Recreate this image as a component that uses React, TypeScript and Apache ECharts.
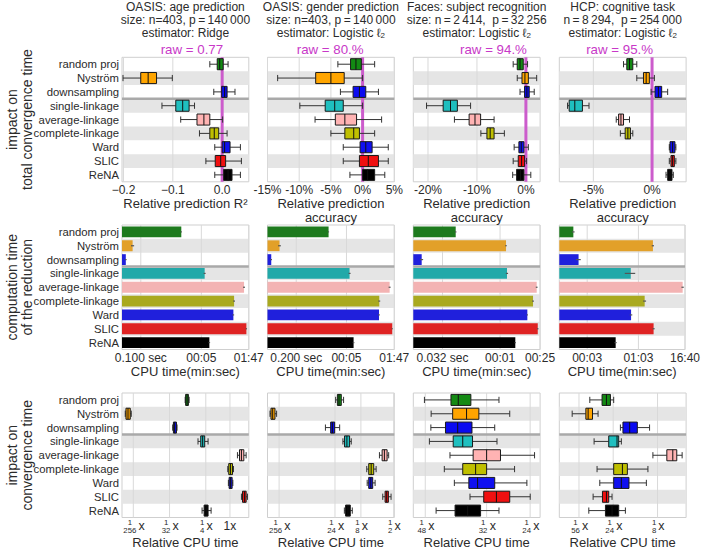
import { useEffect, useRef } from 'react';
import * as echarts from 'echarts';

const FONT = '"Liberation Sans", Arial, Helvetica, sans-serif';
const TEXT = '#2b2b2b';

const methods = [
  'random proj', 'Nyström', 'downsampling', 'single-linkage', 'average-linkage',
  'complete-linkage', 'Ward', 'SLIC', 'ReNA',
];
const boxColors = ['#138a13', '#ffa500', '#0a0af0', '#1fbfbf', '#ffb3b3', '#bfbf00', '#1010f0', '#f01010', '#000000'];
const barColors = ['#1d7a1d', '#e2a029', '#2020dc', '#22a9a9', '#f3b3b3', '#a9a91f', '#2020dc', '#df2323', '#000000'];

const studyTitles = [
  'OASIS: age prediction\nsize: n=403, p\u2009=\u2009140\u2009000\nestimator: Ridge',
  'OASIS: gender prediction\nsize: n=403, p\u2009=\u2009140\u2009000\nestimator: Logistic \u2113{sub|2}',
  'Faces: subject recognition\nsize: n\u2009=\u20092\u2009414,  p\u2009=\u200932\u2009256\nestimator: Logistic \u2113{sub|2}',
  'HCP: cognitive task\nn\u2009=\u20098\u2009294,  p\u2009=\u2009254\u2009000\nestimator: Logistic \u2113{sub|2}',
];
const rawScores = ['raw = 0.77', 'raw = 80.%', 'raw = 94.%', 'raw = 95.%'];
const rowTitles = ['impact on\ntotal convergence time', 'computation time\nof the reduction', 'impact on\nconvergence time'];

// Relative prediction score: [low whisker, q1, median, q3, high whisker]
const scoreOasisAge = [
  [-0.025, -0.010, -0.005, 0.002, 0.012],
  [-0.201, -0.165, -0.150, -0.133, -0.101],
  [-0.017, -0.001, 0.005, 0.010, 0.026],
  [-0.122, -0.094, -0.080, -0.067, -0.056],
  [-0.084, -0.051, -0.037, -0.025, 0.001],
  [-0.046, -0.025, -0.016, -0.007, 0.010],
  [-0.015, 0.000, 0.005, 0.016, 0.037],
  [-0.033, -0.014, -0.003, 0.007, 0.039],
  [-0.015, 0.003, 0.012, 0.020, 0.037],
];
const scoreOasisGender = [
  [-3.9, -1.9, -1.05, -0.2, 1.9],
  [-13.4, -7.4, -5.0, -2.9, 0],
  [-3.5, -1.5, -0.5, 0.5, 2.5],
  [-9.9, -5.9, -4.4, -3.05, 0],
  [-7.5, -4.3, -2.8, -0.95, 3.0],
  [-5.0, -2.8, -1.4, -0.5, 1.9],
  [-3.05, -0.4, 0.5, 1.5, 4.05],
  [-3.05, -0.5, 0.9, 2.5, 4.05],
  [-2.0, 0, 0.8, 1.9, 3.5],
];
const scoreFaces = [
  [-2.6, -1.77, -1.2, -0.54, 0.34],
  [-1.77, -0.8, -0.2, 0.5, 2.2],
  [-1.2, -0.27, 0.2, 0.68, 1.7],
  [-20.3, -16.9, -15.4, -14.0, -11.3],
  [-14.6, -11.6, -10.4, -9.25, -6.5],
  [-9.2, -7.96, -7.3, -6.5, -4.4],
  [-2.4, -1.43, -0.95, -0.4, 0.5],
  [-2.6, -1.56, -0.88, -0.27, 0.14],
  [-2.7, -1.9, -1.1, -0.4, 1.0],
];
const scoreHcp = [
  [-2.43, -2.15, -1.92, -1.64, -1.3],
  [-1.3, -0.73, -0.5, -0.23, 0.2],
  [-0.08, 0.25, 0.54, 0.82, 1.33],
  [-7.2, -7.06, -6.58, -5.93, -5.37],
  [-3.05, -2.85, -2.65, -2.43, -1.92],
  [-2.7, -2.29, -2.06, -1.84, -1.64],
  [1.47, 1.53, 1.75, 1.95, 2.03],
  [1.47, 1.61, 1.75, 1.9, 2.03],
  [1.19, 1.33, 1.53, 1.7, 1.81],
];
const scoreAxisMin = [-0.203, -15, -23, -7.9];
const scoreAxisMax = [0.054, 5, 2.9, 2.9];
const scoreTicks = [[-0.2, -0.1, 0], [-15, -10, -5, 0, 5], [-20, -10, 0], [-5, 0]];
const scoreTickLabels = [
  ['\u22120.2', '\u22120.1', '0.0'],
  ['-15%', '-10%', '-5%', '0%', '5%'],
  ['-20%', '-10%', '0%'],
  ['-5%', '0%'],
];
const scoreAxisNames = [
  'Relative prediction R\u00b2',
  'Relative prediction\naccuracy',
  'Relative prediction\naccuracy',
  'Relative prediction\naccuracy',
];

// Computation time of the reduction, in seconds, with its spread
const reductionTimeOasisAge = [1.37, 0.059, 0.038, 6.2, 79, 41.5, 39.6, 91.8, 8.4];
const reductionErrOasisAge = [0.05, 0.006, 0.002, 0.4, 5, 2.5, 2, 4, 0.4];
const reductionTimeOasisGender = [1.59, 0.0685, 0.0403, 6.1, 79.6, 41, 40.3, 94, 7.9];
const reductionErrOasisGender = [0.05, 0.006, 0.002, 0.4, 5, 2.5, 2, 4, 0.4];
const reductionTimeFaces = [0.0789, 2.45, 0.00773, 2.62, 19.9, 15.5, 10.5, 21.4, 4.62];
const reductionErrFaces = [0.004, 0.15, 0.0008, 0.2, 1.2, 0.9, 0.4, 1.1, 0.2];
const reductionTimeHcp = [1.32, 149, 1.8, 40, 871, 91.2, 40.7, 155, 16.3];
const reductionErrHcp = [0.1, 10, 0.25, 12, 60, 8, 3, 10, 1];
const timeAxisMin = [0.0297, 0.0317, 0.00436, 0.573];
const timeAxisMax = [107.3, 107.3, 25.1, 1003];
const timeTicks = [[0.1, 5, 107], [0.2, 5, 107], [0.032, 1.63, 25], [3, 63, 1000]];
const timeTickLabels = [
  ['0.100 sec', '00:05', '01:47'],
  ['0.200 sec', '00:05', '01:47'],
  ['0.032 sec', '00:01', '00:25'],
  ['00:03', '01:03', '16:40'],
];

// Relative CPU time of the estimator: [low whisker, q1, median, q3, high whisker]
const cpuOasisAge = [
  [0.0765, 0.0786, 0.0854, 0.0921, 0.096],
  [0.00246, 0.00256, 0.00288, 0.00328, 0.00347],
  [0.0374, 0.039, 0.0418, 0.0464, 0.048],
  [0.16, 0.187, 0.209, 0.235, 0.285],
  [1.537, 1.729, 1.932, 2.219, 2.532],
  [0.883, 0.933, 1.028, 1.157, 1.223],
  [0.914, 0.953, 1.028, 1.133, 1.181],
  [1.932, 2.056, 2.297, 2.532, 2.732],
  [0.202, 0.227, 0.255, 0.285, 0.339],
];
const cpuOasisGender = [
  [0.0429, 0.0461, 0.0494, 0.0544, 0.06],
  [0.00266, 0.00277, 0.00298, 0.00328, 0.00352],
  [0.0278, 0.0347, 0.0373, 0.0411, 0.0508],
  [0.0583, 0.0625, 0.069, 0.0774, 0.083],
  [0.274, 0.307, 0.338, 0.379, 0.405],
  [0.16, 0.174, 0.193, 0.215, 0.238],
  [0.163, 0.174, 0.19, 0.206, 0.228],
  [0.315, 0.348, 0.372, 0.4, 0.448],
  [0.062, 0.0653, 0.0721, 0.0797, 0.0867],
];
const cpuFaces = [
  [0.02072, 0.02469, 0.02591, 0.02816, 0.03391],
  [0.02166, 0.02497, 0.02737, 0.02969, 0.03641],
  [0.02162, 0.02381, 0.02581, 0.02837, 0.03297],
  [0.02141, 0.02506, 0.02669, 0.02847, 0.03347],
  [0.02453, 0.02859, 0.03125, 0.03425, 0.0429],
  [0.02363, 0.02669, 0.02906, 0.03125, 0.03759],
  [0.02525, 0.02779, 0.02944, 0.03297, 0.04078],
  [0.028, 0.03066, 0.03334, 0.03641, 0.04169],
  [0.02238, 0.02537, 0.02757, 0.03003, 0.03391],
];
const cpuHcp = [
  [0.02335, 0.03164, 0.03525, 0.03892, 0.04219],
  [0.01509, 0.02117, 0.0224, 0.02497, 0.02865],
  [0.04981, 0.05306, 0.06267, 0.07575, 0.1026],
  [0.02597, 0.03731, 0.04581, 0.04775, 0.051],
  [0.1114, 0.1573, 0.1823, 0.2012, 0.2298],
  [0.02794, 0.04219, 0.05237, 0.05919, 0.0985],
  [0.0299, 0.04219, 0.051, 0.06162, 0.09475],
  [0.02535, 0.03195, 0.03525, 0.03731, 0.0405],
  [0.02278, 0.0344, 0.0405, 0.04775, 0.05638],
];
const cpuAxisMin = [0.00204, 0.00239, 0.01925, 0.01097];
const cpuAxisMax = [2.95, 0.514, 0.0445, 0.2535];
const cpuTickDenominators = [[256, 32, 4, 1], [256, 24, 8, 2], [48, 32, 24], [56, 24, 8]];

const scoreData = [scoreOasisAge, scoreOasisGender, scoreFaces, scoreHcp];
const timeData = [reductionTimeOasisAge, reductionTimeOasisGender, reductionTimeFaces, reductionTimeHcp];
const timeErr = [reductionErrOasisAge, reductionErrOasisGender, reductionErrFaces, reductionErrHcp];
const cpuData = [cpuOasisAge, cpuOasisGender, cpuFaces, cpuHcp];

// panel geometry
const colLeft = [122, 267.5, 413.3, 559.3];
const plotW = 126.8;
const rowTop = [57.3, 225, 393];
const plotH = 124.5;

function nearestIndex(ticks: number[], v: number) {
  let best = 0;
  let bestD = Infinity;
  ticks.forEach((t, i) => {
    const d = Math.abs(t - v);
    if (d < bestD) { bestD = d; best = i; }
  });
  return best;
}

function frameSeries(xAxisIndex: number, yAxisIndex: number, ticks: number[], raw: string | null) {
  return {
    type: 'custom',
    xAxisIndex,
    yAxisIndex,
    z: 1,
    silent: true,
    clip: false,
    data: [[ticks[ticks.length - 1], 0]],
    encode: { x: 0, y: 1 },
    renderItem: (params: any, api: any) => {
      const cs = params.coordSys;
      const children: any[] = [];
      ticks.forEach((t) => {
        const x = api.coord([t, 0])[0];
        children.push({
          type: 'line',
          shape: { x1: x, y1: cs.y, x2: x, y2: cs.y + cs.height },
          style: { stroke: '#d9d9d9', lineWidth: 1 },
        });
      });
      const ys = cs.y + (cs.height * 3) / methods.length;
      children.push({
        type: 'line',
        shape: { x1: cs.x, y1: ys, x2: cs.x + cs.width, y2: ys },
        style: { stroke: '#a9a9a9', lineWidth: 2.5 },
      });
      if (raw) {
        const x0 = api.coord([0, 0])[0];
        children.push({
          type: 'line',
          shape: { x1: x0, y1: cs.y, x2: x0, y2: cs.y + cs.height },
          style: { stroke: '#cc5ccc', lineWidth: 3 },
        });
        children.push({
          type: 'text',
          x: x0 + 1,
          y: cs.y - 8,
          style: {
            text: raw, align: 'right', verticalAlign: 'middle',
            fontSize: 13.3, fill: '#c838c8', fontFamily: FONT,
          },
        });
      }
      return { type: 'group', children };
    },
  };
}

function boxSeries(xAxisIndex: number, yAxisIndex: number, rows: number[][]) {
  return {
    type: 'custom',
    xAxisIndex,
    yAxisIndex,
    z: 3,
    silent: true,
    data: rows.map((d, i) => [i, ...d]),
    encode: { x: [1, 2, 3, 4, 5], y: 0 },
    renderItem: (params: any, api: any) => {
      const cs = params.coordSys;
      const band = cs.height / methods.length;
      const ci = api.value(0);
      const xs = [1, 2, 3, 4, 5].map((d) => api.coord([api.value(d), ci])[0]);
      const yc = api.coord([api.value(3), ci])[1];
      const bh = band * 0.8;
      const ch = band * 0.45;
      const whisker = { stroke: '#333333', lineWidth: 1 };
      return {
        type: 'group',
        children: [
          { type: 'line', shape: { x1: xs[0], y1: yc, x2: xs[1], y2: yc }, style: whisker },
          { type: 'line', shape: { x1: xs[3], y1: yc, x2: xs[4], y2: yc }, style: whisker },
          { type: 'line', shape: { x1: xs[0], y1: yc - ch / 2, x2: xs[0], y2: yc + ch / 2 }, style: whisker },
          { type: 'line', shape: { x1: xs[4], y1: yc - ch / 2, x2: xs[4], y2: yc + ch / 2 }, style: whisker },
          {
            type: 'rect',
            shape: { x: xs[1], y: yc - bh / 2, width: xs[3] - xs[1], height: bh },
            style: { fill: boxColors[ci], stroke: '#1a1a1a', lineWidth: 1 },
          },
          {
            type: 'line',
            shape: { x1: xs[2], y1: yc - bh / 2, x2: xs[2], y2: yc + bh / 2 },
            style: { stroke: '#111111', lineWidth: 1 },
          },
        ],
      };
    },
  };
}

function barSeries(xAxisIndex: number, yAxisIndex: number, values: number[], errs: number[]) {
  return {
    type: 'custom',
    xAxisIndex,
    yAxisIndex,
    z: 3,
    silent: true,
    data: values.map((v, i) => [i, v, errs[i]]),
    encode: { x: 1, y: 0 },
    renderItem: (params: any, api: any) => {
      const cs = params.coordSys;
      const band = cs.height / methods.length;
      const ci = api.value(0);
      const v = api.value(1);
      const e = api.value(2);
      const p = api.coord([v, ci]);
      const lo = api.coord([v - e, ci])[0];
      const hi = api.coord([v + e, ci])[0];
      const bh = band * 0.78;
      return {
        type: 'group',
        children: [
          {
            type: 'rect',
            shape: { x: cs.x, y: p[1] - bh / 2, width: p[0] - cs.x, height: bh },
            style: { fill: barColors[ci] },
          },
          {
            type: 'line',
            shape: { x1: lo, y1: p[1], x2: hi, y2: p[1] },
            style: { stroke: '#555555', lineWidth: 1.2 },
          },
        ],
      };
    },
  };
}

// fraction tick label "1/d x": numerator, the "x" on a thin middle line, denominator
function fractionLabel(d: number) {
  if (d === 1) return '{one|1x}';
  return `{n|1}\n{x${String(d).length}|x}\n{d|${d}}`;
}

const fractionRich = (() => {
  const base = { color: TEXT, fontFamily: FONT };
  const rich: any = {
    n: { ...base, fontSize: 7.8, lineHeight: 7.9, padding: [0, 7, 0, 0] },
    d: { ...base, fontSize: 7.8, lineHeight: 7.9, padding: [0, 7, 0, 0] },
    one: { ...base, fontSize: 12, lineHeight: 16 },
  };
  [1, 2, 3].forEach((k) => {
    rich['x' + k] = { ...base, fontSize: 12.5, lineHeight: 0.4, padding: [0, 0, 0, k * 4.4 + 3.5] };
  });
  return rich;
})();

function buildOption() {
  const grid: any[] = [];
  const xAxis: any[] = [];
  const yAxis: any[] = [];
  const series: any[] = [];
  const nameStyle = { fontSize: 13, lineHeight: 14, color: TEXT, fontFamily: FONT };
  const tickStyle = { fontSize: 12, color: TEXT, fontFamily: FONT };

  for (let r = 0; r < 3; r++) {
    for (let c = 0; c < 4; c++) {
      const g = grid.length;
      grid.push({
        left: colLeft[c], top: rowTop[r], width: plotW, height: plotH,
        show: true, borderColor: '#cfcfcf', borderWidth: 1, backgroundColor: '#ffffff',
      });
      const yi = yAxis.length;
      yAxis.push({
        type: 'category',
        gridIndex: g,
        data: methods,
        inverse: true,
        axisLine: { show: false },
        axisTick: { show: false, interval: 0 },
        axisLabel: { show: c === 0, interval: 0, fontSize: 11.3, color: TEXT, fontFamily: FONT, margin: 3 },
        splitLine: { show: false },
        splitArea: { show: true, interval: 0, areaStyle: { color: ['rgba(255,255,255,0)', '#e5e5e5'] } },
      });
      const xi = xAxis.length;
      if (r === 0) {
        const ticks = scoreTicks[c];
        xAxis.push({
          type: 'value',
          gridIndex: g,
          position: 'bottom',
          min: scoreAxisMin[c],
          max: scoreAxisMax[c],
          axisLine: { show: false },
          axisTick: { show: false, customValues: ticks },
          splitLine: { show: false },
          axisLabel: {
            ...tickStyle, margin: 2, customValues: ticks,
            formatter: (v: number) => scoreTickLabels[c][nearestIndex(ticks, v)],
          },
          name: scoreAxisNames[c],
          nameLocation: 'middle',
          nameGap: 10.5,
          nameTextStyle: nameStyle,
        });
        series.push(frameSeries(xi, yi, ticks, rawScores[c]));
        series.push(boxSeries(xi, yi, scoreData[c]));
      } else if (r === 1) {
        const ticks = timeTicks[c];
        xAxis.push({
          type: 'log',
          logBase: 10,
          gridIndex: g,
          position: 'bottom',
          min: timeAxisMin[c],
          max: timeAxisMax[c],
          axisLine: { show: false },
          axisTick: { show: false, customValues: ticks },
          splitLine: { show: false },
          axisLabel: {
            ...tickStyle, margin: 2, customValues: ticks,
            formatter: (v: number) => timeTickLabels[c][nearestIndex(ticks, v)],
          },
          name: 'CPU time(min:sec)',
          nameLocation: 'middle',
          nameGap: 13,
          nameTextStyle: nameStyle,
        });
        series.push(frameSeries(xi, yi, ticks, null));
        series.push(barSeries(xi, yi, timeData[c], timeErr[c]));
      } else {
        const dens = cpuTickDenominators[c];
        const ticks = dens.map((d) => 1 / d);
        xAxis.push({
          type: 'log',
          logBase: 2,
          gridIndex: g,
          position: 'bottom',
          min: cpuAxisMin[c],
          max: cpuAxisMax[c],
          axisLine: { show: false },
          axisTick: { show: false, customValues: ticks },
          splitLine: { show: false },
          axisLabel: {
            margin: 0.8,
            customValues: ticks,
            formatter: (v: number) => fractionLabel(dens[nearestIndex(ticks, v)]),
            rich: fractionRich,
          },
          name: 'Relative CPU time',
          nameLocation: 'middle',
          nameGap: 17.5,
          nameTextStyle: nameStyle,
        });
        series.push(frameSeries(xi, yi, ticks, null));
        series.push(boxSeries(xi, yi, cpuData[c]));
      }
    }
  }

  const graphic: any[] = [];
  studyTitles.forEach((t, c) => {
    graphic.push({
      type: 'text',
      x: colLeft[c] + plotW / 2,
      y: 1,
      style: {
        text: t,
        align: 'center',
        verticalAlign: 'top',
        fontSize: 12,
        lineHeight: 12.9,
        fill: TEXT,
        fontFamily: FONT,
        rich: { sub: { fontSize: 8, lineHeight: 5, verticalAlign: 'bottom', fill: TEXT, fontFamily: FONT } },
      },
    });
  });
  rowTitles.forEach((t, r) => {
    graphic.push({
      type: 'text',
      x: 19,
      y: rowTop[r] + plotH / 2,
      rotation: Math.PI / 2,
      style: {
        text: t, align: 'center', verticalAlign: 'middle',
        fontSize: 14, lineHeight: 15, fill: TEXT, fontFamily: FONT,
      },
    });
  });

  return {
    animation: false,
    backgroundColor: '#ffffff',
    textStyle: { fontFamily: FONT },
    grid,
    xAxis,
    yAxis,
    series,
    graphic,
  };
}

export default function App() {
  const ref = useRef<HTMLDivElement>(null);
  useEffect(() => {
    if (!ref.current) return;
    const chart = echarts.init(ref.current, undefined, { renderer: 'svg' });
    chart.setOption(buildOption() as any);
    return () => chart.dispose();
  }, []);
  return (
    <div
      ref={ref}
      style={{ position: 'absolute', left: 0, top: 0, width: 703, height: 551, background: '#fff' }}
    />
  );
}
